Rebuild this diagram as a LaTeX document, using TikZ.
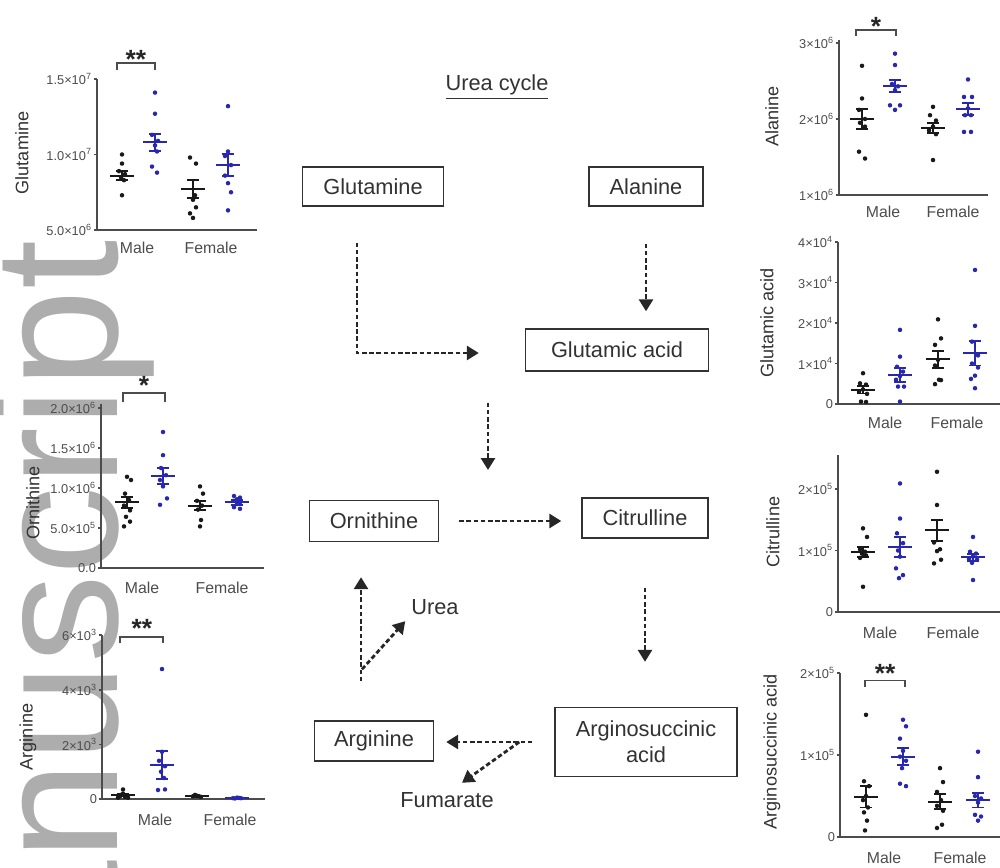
\documentclass[tikz,border=0pt]{standalone}
\usepackage{fontspec}
\setmainfont{Liberation Sans}
\usetikzlibrary{arrows.meta,calc}
\definecolor{plotblue}{RGB}{40,40,175}
\definecolor{ink}{RGB}{50,50,50}

\begin{document}
\begin{tikzpicture}[x=0.2mm, y=-0.2mm,
  box/.style={draw=ink, line width=0.8pt, inner sep=0pt, text=ink, align=center, font=\fontsize{12.4}{15}\selectfont},
  lbl/.style={text=ink, inner sep=1pt, font=\fontsize{12.4}{15}\selectfont},
  flow/.style={draw=black!85, line width=1.6pt, dash pattern=on 2.6pt off 1.5pt, -{Triangle[length=2.4mm,width=2.8mm]}},
  axis/.style={draw=black!70, line width=0.9pt},
  ticklbl/.style={anchor=east, inner sep=1pt, text=black!70, font=\fontsize{7.3}{8}\selectfont},
  ylbl/.style={rotate=90, inner sep=0pt, text=black!80, font=\fontsize{10.3}{12}\selectfont},
  grp/.style={inner sep=0pt, text=black!70, font=\fontsize{9}{11}\selectfont},
  sig/.style={inner sep=0pt, text=black!85, font=\bfseries\fontsize{15}{15}\selectfont},
  bar/.style={line width=1.1pt}]
\useasboundingbox (0,0) rectangle (1000,867);
% watermark
\node[rotate=90, anchor=base east, inner sep=0pt, text=black!32, font=\fontsize{100.8}{100}\selectfont] (stamp) at (117,240) {manuscript};

% urea cycle
\node[lbl] (title) at (497,87) {\underline{Urea cycle}};
\node[box, minimum width=28.2mm, minimum height=7.8mm] (glutamine) at (373,186.5) {Glutamine};
\node[box, minimum width=22.8mm, minimum height=7.8mm] (alanine) at (646,186.5) {Alanine};
\node[box, minimum width=36.6mm, minimum height=8.4mm] (glutacid) at (617,350) {Glutamic acid};
\node[box, minimum width=25.8mm, minimum height=8.2mm] (ornithine) at (374,521) {Ornithine};
\node[box, minimum width=25.2mm, minimum height=8mm] (citrulline) at (645,518) {Citrulline};
\node[box, minimum width=36.4mm, minimum height=13.8mm] (argsucc) at (646,742) {Arginosuccinic\\acid};
\node[box, minimum width=23.8mm, minimum height=8mm] (arginine) at (374,741) {Arginine};
\node[lbl] (urea) at (435,607) {Urea};
\node[lbl] (fumarate) at (447,800) {Fumarate};
\coordinate (entry) at (488,470);
\coordinate (split) at ($(argsucc.west)+(-35,0)$);
\coordinate (release) at ([xshift=-2.4mm, yshift=10.2mm]arginine.north);

\draw[flow] ([xshift=-3.2mm, yshift=-7.2mm]glutamine.south) |- ([xshift=-9.2mm, yshift=-0.6mm]glutacid.west);
\draw[flow, shorten <=7.4mm, shorten >=3.4mm] (alanine.south) -- (alanine.south |- glutacid.north);
\draw[flow, shorten <=6.2mm] (entry |- glutacid.south) -- (entry);
\draw[flow, shorten <=4mm, shorten >=4mm] (ornithine.east) -- (ornithine.east -| citrulline.west);
\draw[flow, shorten <=9.8mm, shorten >=9mm] (citrulline.south) -- (citrulline.south |- argsucc.north);
\draw[flow, shorten <=4.4mm, shorten >=2.4mm] (argsucc.west) -- (argsucc.west -| arginine.east);
\draw[flow] (split) -- ([xshift=3mm, yshift=1.5mm]fumarate.north);
\draw[flow] ([xshift=-2.6mm, yshift=7.8mm]arginine.north) -- ([xshift=-2.6mm, yshift=-7mm]ornithine.south);
\draw[flow, shorten >=1.2mm] (release) -- (urea.south west);

% glutamine
\begin{scope}[shift={(97,305.5)}, x=0.2mm, y=3.02mm]
  \draw[axis] (0,15) -- (0,5) -- (160,5);
  \foreach \v/\t [count=\i] in {15/{1.5×10\textsuperscript{7}}, 10/{1.0×10\textsuperscript{7}}, 5/{5.0×10\textsuperscript{6}}} {
    \draw[axis] (-3,\v) -- (0,\v);
    \node[ticklbl] (glnt\i) at (-3,\v) {\t};
  }
  \node[ylbl] (glnlbl) at (-75,10.1) {Glutamine};
  \node[grp] (glnmale) at (40,3.8) {Male};
  \node[grp] (glnfemale) at (114,3.8) {Female};
  \draw[axis, line width=0.8pt] (20,15.6) -- (20,16.06) -- (58,16.06) -- (58,15.6);
  \node[sig] (glnsig) at (39,16.32) {**};
  \foreach \px/\v in {25/10.0,25/9.4,22/8.9,28/8.7,24/8.5,27/8.3,25/7.3}
    \fill[black!90] (\px,\v) circle[radius=0.45mm];
  \foreach \px/\v in {58/14.1,58/12.7,55/11.3,61/10.9,58/10.6,60/10.2,55/9.2,60/8.8}
    \fill[plotblue] (\px,\v) circle[radius=0.45mm];
  \foreach \px/\v in {93/9.8,99/9.4,96/7.0,93/6.1,99/6.5,96/5.8,98/7.3}
    \fill[black!90] (\px,\v) circle[radius=0.45mm];
  \foreach \px/\v in {131/13.2,131/10.2,128/9.9,134/9.3,128/8.6,131/8.1,134/7.5,131/6.3}
    \fill[plotblue] (\px,\v) circle[radius=0.45mm];
  \foreach \px/\m/\s/\c in {25/8.6/0.3/black!90, 58/10.8/0.55/plotblue, 96/7.7/0.6/black!90, 131/9.3/0.75/plotblue}
    \draw[bar, color=\c] (\px-12,\m) -- (\px+12,\m) (\px,\m-\s) -- (\px,\m+\s) (\px-6,\m-\s) -- (\px+6,\m-\s) (\px-6,\m+\s) -- (\px+6,\m+\s);
\end{scope}

% ornithine
\begin{scope}[shift={(101,568)}, x=0.2mm, y=16mm]
  \draw[axis] (0,2.05) -- (0,0) -- (163,0);
  \foreach \v/\t [count=\i] in {2/{2.0×10\textsuperscript{6}}, 1.5/{1.5×10\textsuperscript{6}}, 1/{1.0×10\textsuperscript{6}}, 0.5/{5.0×10\textsuperscript{5}}, 0/{0.0}} {
    \draw[axis] (-3,\v) -- (0,\v);
    \node[ticklbl] (ornt\i) at (-3,\v) {\t};
  }
  \node[ylbl] (ornlbl) at (-68,0.81) {Ornithine};
  \node[grp] (ornmale) at (41,-0.25) {Male};
  \node[grp] (ornfemale) at (121,-0.25) {Female};
  \draw[axis, line width=0.8pt] (22,2.08) -- (22,2.19) -- (64,2.19) -- (64,2.08);
  \node[sig] (ornsig) at (43,2.28) {*};
  \foreach \px/\v in {26/1.14,30/1.1,24/0.93,28/0.85,23/0.78,29/0.72,25/0.64,29/0.58,23/0.52}
    \fill[black!90] (\px,\v) circle[radius=0.45mm];
  \foreach \px/\v in {62/1.70,62/1.41,60/1.25,65/1.16,59/1.10,62/1.02,66/0.87,59/0.79}
    \fill[plotblue] (\px,\v) circle[radius=0.45mm];
  \foreach \px/\v in {99/1.02,102/0.93,96/0.84,101/0.78,97/0.73,100/0.6,99/0.52}
    \fill[black!90] (\px,\v) circle[radius=0.45mm];
  \foreach \px/\v in {133/0.90,139/0.88,133/0.84,139/0.82,136/0.80,133/0.76,139/0.74,136/0.86}
    \fill[plotblue] (\px,\v) circle[radius=0.45mm];
  \foreach \px/\m/\s/\c in {26/0.82/0.07/black!90, 62/1.15/0.1/plotblue, 99/0.78/0.06/black!90, 136/0.82/0.03/plotblue}
    \draw[bar, color=\c] (\px-12,\m) -- (\px+12,\m) (\px,\m-\s) -- (\px,\m+\s) (\px-6,\m-\s) -- (\px+6,\m-\s) (\px-6,\m+\s) -- (\px+6,\m+\s);
\end{scope}

% arginine
\begin{scope}[shift={(102,799)}, x=0.2mm, y=5.46mm]
  \draw[axis] (0,6) -- (0,0) -- (163,0);
  \foreach \v/\t [count=\i] in {6/{6×10\textsuperscript{3}}, 4/{4×10\textsuperscript{3}}, 2/{2×10\textsuperscript{3}}, 0/{0}} {
    \draw[axis] (-3,\v) -- (0,\v);
    \node[ticklbl] (argt\i) at (-3,\v) {\t};
  }
  \node[ylbl] (arglbl) at (-74,2.27) {Arginine};
  \node[grp] (argmale) at (53,-0.77) {Male};
  \node[grp] (argfemale) at (128,-0.77) {Female};
  \draw[axis, line width=0.8pt] (18,5.71) -- (18,5.93) -- (61,5.93) -- (61,5.71);
  \node[sig] (argsig) at (40,6.23) {**};
  \foreach \px/\v in {18/0.1,21/0.35,24/0.1,16/0.05,26/0.05,21/0.2,19/0.15,23/0.08}
    \fill[black!90] (\px,\v) circle[radius=0.45mm];
  \foreach \px/\v in {60/4.76,60/1.73,57/1.4,63/1.2,59/1.0,62/0.77,56/0.33,63/0.35}
    \fill[plotblue] (\px,\v) circle[radius=0.45mm];
  \foreach \px/\v in {91/0.1,95/0.12,99/0.08,93/0.15,97/0.1}
    \fill[black!90] (\px,\v) circle[radius=0.45mm];
  \foreach \px/\v in {131/0.03,135/0.05,139/0.03,133/0.02,137/0.04}
    \fill[plotblue] (\px,\v) circle[radius=0.45mm];
  \foreach \px/\m/\s/\c in {21/0.15/0.05/black!90, 60/1.25/0.5/plotblue, 95/0.1/0.02/black!90, 135/0.03/0.01/plotblue}
    \draw[bar, color=\c] (\px-12,\m) -- (\px+12,\m) (\px,\m-\s) -- (\px,\m+\s) (\px-6,\m-\s) -- (\px+6,\m-\s) (\px-6,\m+\s) -- (\px+6,\m+\s);
\end{scope}

% alanine
\begin{scope}[shift={(839,271)}, x=0.2mm, y=15.2mm]
  \draw[axis] (0,3.04) -- (0,1) -- (149,1);
  \foreach \v/\t [count=\i] in {3/{3×10\textsuperscript{6}}, 2/{2×10\textsuperscript{6}}, 1/{1×10\textsuperscript{6}}} {
    \draw[axis] (-3,\v) -- (0,\v);
    \node[ticklbl] (alat\i) at (-3,\v) {\t};
  }
  \node[ylbl] (alalbl) at (-67,2.03) {Alanine};
  \node[grp] (alamale) at (44,0.78) {Male};
  \node[grp] (alafemale) at (114,0.78) {Female};
  \draw[axis, line width=0.8pt] (17,3.09) -- (17,3.17) -- (57,3.17) -- (57,3.09);
  \node[sig] (alasig) at (37,3.22) {*};
  \foreach \px/\v in {23/2.70,23/2.27,20/2.12,26/2.0,21/1.95,26/1.9,20/1.57,26/1.48}
    \fill[black!90] (\px,\v) circle[radius=0.45mm];
  \foreach \px/\v in {56/2.86,56/2.71,53/2.46,59/2.43,56/2.38,51/2.18,61/2.18,56/2.12}
    \fill[plotblue] (\px,\v) circle[radius=0.45mm];
  \foreach \px/\v in {94/2.16,91/2.05,97/1.98,94/1.90,90/1.85,97/1.80,94/1.46}
    \fill[black!90] (\px,\v) circle[radius=0.45mm];
  \foreach \px/\v in {129/2.52,125/2.29,133/2.29,129/2.14,126/2.05,132/2.05,125/1.83,132/1.83}
    \fill[plotblue] (\px,\v) circle[radius=0.45mm];
  \foreach \px/\m/\s/\c in {23/2.0/0.13/black!90, 56/2.43/0.08/plotblue, 94/1.88/0.07/black!90, 129/2.13/0.08/plotblue}
    \draw[bar, color=\c] (\px-12,\m) -- (\px+12,\m) (\px,\m-\s) -- (\px,\m+\s) (\px-6,\m-\s) -- (\px+6,\m-\s) (\px-6,\m+\s) -- (\px+6,\m+\s);
\end{scope}

% glutamic acid
\begin{scope}[shift={(838,404)}, x=0.2mm, y=8.1mm]
  \draw[axis] (0,4) -- (0,0) -- (162,0);
  \foreach \v/\t [count=\i] in {4/{4×10\textsuperscript{4}}, 3/{3×10\textsuperscript{4}}, 2/{2×10\textsuperscript{4}}, 1/{1×10\textsuperscript{4}}, 0/{0}} {
    \draw[axis] (-3,\v) -- (0,\v);
    \node[ticklbl] (glut\i) at (-3,\v) {\t};
  }
  \node[ylbl] (glulbl) at (-71,2.0) {Glutamic acid};
  \node[grp] (glumale) at (47,-0.47) {Male};
  \node[grp] (glufemale) at (119,-0.47) {Female};
  \foreach \px/\v in {25/0.76,22/0.51,28/0.48,25/0.36,21/0.3,29/0.25,23/0.06,28/0.05}
    \fill[black!90] (\px,\v) circle[radius=0.45mm];
  \foreach \px/\v in {62/1.83,62/1.17,59/0.92,65/0.8,62/0.69,58/0.6,66/0.43,60/0.43,62/0.06}
    \fill[plotblue] (\px,\v) circle[radius=0.45mm];
  \foreach \px/\v in {100/2.09,103/1.62,97/1.46,100/1.09,97/0.95,103/0.59,97/0.49,101/0.6}
    \fill[black!90] (\px,\v) circle[radius=0.45mm];
  \foreach \px/\v in {137/3.31,137/1.93,134/1.54,140/1.2,134/1.0,140/0.9,137/0.7,133/0.62,137/0.39}
    \fill[plotblue] (\px,\v) circle[radius=0.45mm];
  \foreach \px/\m/\s/\c in {25/0.35/0.09/black!90, 62/0.72/0.18/plotblue, 100/1.1/0.2/black!90, 137/1.25/0.3/plotblue}
    \draw[bar, color=\c] (\px-12,\m) -- (\px+12,\m) (\px,\m-\s) -- (\px,\m+\s) (\px-6,\m-\s) -- (\px+6,\m-\s) (\px-6,\m+\s) -- (\px+6,\m+\s);
\end{scope}

% citrulline
\begin{scope}[shift={(838,612)}, x=0.2mm, y=12.3mm]
  \draw[axis] (0,2.55) -- (0,0) -- (162,0);
  \foreach \v/\t [count=\i] in {2/{2×10\textsuperscript{5}}, 1/{1×10\textsuperscript{5}}, 0/{0}} {
    \draw[axis] (-3,\v) -- (0,\v);
    \node[ticklbl] (citt\i) at (-3,\v) {\t};
  }
  \node[ylbl] (citlbl) at (-65,1.3) {Citrulline};
  \node[grp] (citmale) at (42,-0.34) {Male};
  \node[grp] (citfemale) at (115,-0.34) {Female};
  \foreach \px/\v in {25/1.36,29/1.22,22/1.02,27/0.98,24/0.95,28/0.92,22/0.88,25/0.41}
    \fill[black!90] (\px,\v) circle[radius=0.45mm];
  \foreach \px/\v in {62/2.09,62/1.52,59/1.28,65/1.12,60/1.0,62/0.9,58/0.71,65/0.6,61/0.55}
    \fill[plotblue] (\px,\v) circle[radius=0.45mm];
  \foreach \px/\v in {99/2.28,99/1.74,96/1.13,102/1.02,99/0.99,103/0.85,96/0.79}
    \fill[black!90] (\px,\v) circle[radius=0.45mm];
  \foreach \px/\v in {135/1.22,132/0.98,138/0.95,135/0.9,131/0.86,139/0.85,134/0.8,135/0.52}
    \fill[plotblue] (\px,\v) circle[radius=0.45mm];
  \foreach \px/\m/\s/\c in {25/0.98/0.08/black!90, 62/1.06/0.16/plotblue, 99/1.33/0.17/black!90, 135/0.89/0.06/plotblue}
    \draw[bar, color=\c] (\px-12,\m) -- (\px+12,\m) (\px,\m-\s) -- (\px,\m+\s) (\px-6,\m-\s) -- (\px+6,\m-\s) (\px-6,\m+\s) -- (\px+6,\m+\s);
\end{scope}

% argininosuccinic acid
\begin{scope}[shift={(840,837)}, x=0.2mm, y=16.4mm]
  \draw[axis] (0,2) -- (0,0) -- (160,0);
  \foreach \v/\t [count=\i] in {2/{2×10\textsuperscript{5}}, 1/{1×10\textsuperscript{5}}, 0/{0}} {
    \draw[axis] (-3,\v) -- (0,\v);
    \node[ticklbl] (asat\i) at (-3,\v) {\t};
  }
  \node[ylbl] (asalbl) at (-68,1.04) {Arginosuccinic acid};
  \node[grp] (asamale) at (44,-0.26) {Male};
  \node[grp] (asafemale) at (120,-0.26) {Female};
  \draw[axis, line width=0.8pt] (25,1.83) -- (25,1.91) -- (65,1.91) -- (65,1.83);
  \node[sig] (asasig) at (45,1.99) {**};
  \foreach \px/\v in {26/1.49,24/0.68,29/0.62,26/0.5,23/0.45,28/0.36,24/0.3,27/0.2,25/0.08}
    \fill[black!90] (\px,\v) circle[radius=0.45mm];
  \foreach \px/\v in {63/1.43,66/1.35,60/1.2,63/1.05,60/0.98,66/0.93,62/0.84,60/0.65,66/0.62}
    \fill[plotblue] (\px,\v) circle[radius=0.45mm];
  \foreach \px/\v in {100/0.84,103/0.67,97/0.55,101/0.45,97/0.38,103/0.32,97/0.11,102/0.15}
    \fill[black!90] (\px,\v) circle[radius=0.45mm];
  \foreach \px/\v in {138/1.04,138/0.73,135/0.5,141/0.47,138/0.42,135/0.27,141/0.25,138/0.2}
    \fill[plotblue] (\px,\v) circle[radius=0.45mm];
  \foreach \px/\m/\s/\c in {26/0.49/0.13/black!90, 63/0.98/0.1/plotblue, 100/0.43/0.09/black!90, 138/0.45/0.09/plotblue}
    \draw[bar, color=\c] (\px-12,\m) -- (\px+12,\m) (\px,\m-\s) -- (\px,\m+\s) (\px-6,\m-\s) -- (\px+6,\m-\s) (\px-6,\m+\s) -- (\px+6,\m+\s);
\end{scope}
\end{tikzpicture}
\end{document}
